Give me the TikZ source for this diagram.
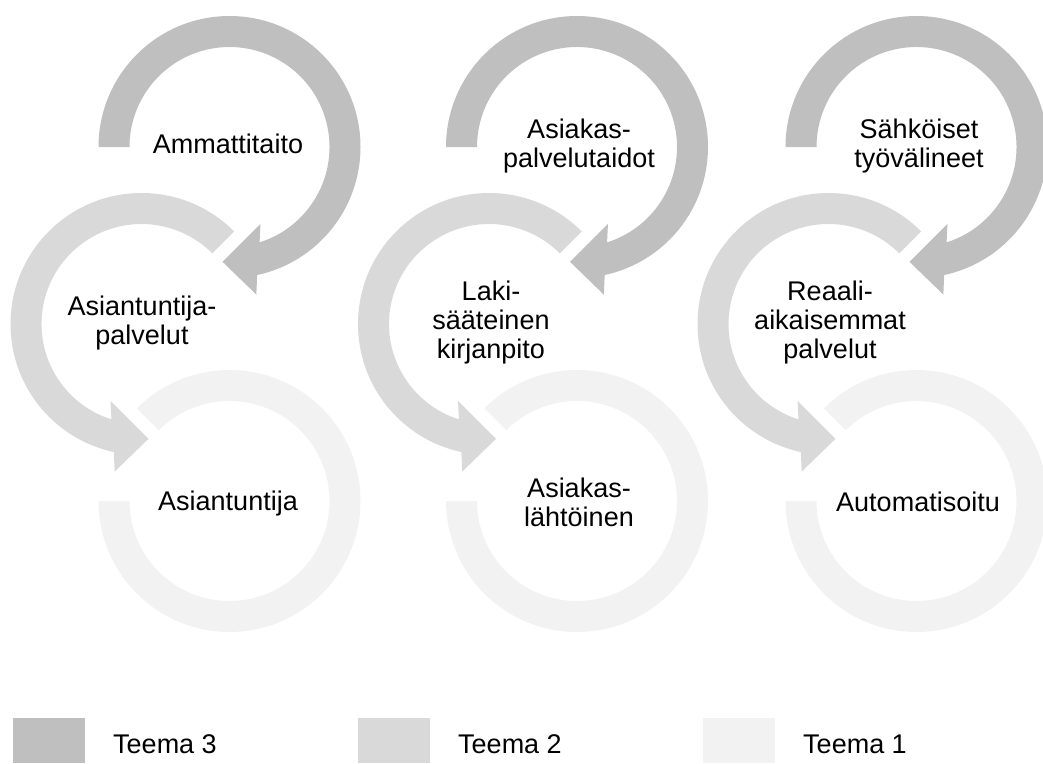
\documentclass[tikz,border=0pt]{standalone}
\usepackage{fontspec}
\setmainfont{Liberation Sans}
\definecolor{tthree}{HTML}{BFBFBF}
\definecolor{ttwo}{HTML}{D9D9D9}
\definecolor{tone}{HTML}{F2F2F2}
\newcommand{\ringarrow}[2]{%
  \fill[#2] (#1:131) arc[start angle=#1, end angle=-77.8, radius=131]
    -- (-79.7:150) -- (-93.5:115) -- (-68.1:83) -- (-72.5:100)
    arc[start angle=-72.5, end angle=#1, radius=100] -- cycle;}
\newcommand{\ringopen}[1]{%
  \fill[#1] (135:131) arc[start angle=135, end angle=-180, radius=131]
    -- (180:100) arc[start angle=-180, end angle=135, radius=100] -- cycle;}
\tikzset{
  lbl/.style={align=center, inner sep=0pt, text=black,
    font=\fontsize{27}{29}\selectfont},
  lgd/.style={anchor=base west, inner sep=0pt, text=black,
    font=\fontsize{27}{29}\selectfont},
}
\begin{document}
\begin{tikzpicture}[x=1pt,y=1pt]
\useasboundingbox (0,0) rectangle (1043,-763);
% column 1
\begin{scope}[shift={(229.5,-501)}]\ringopen{tone}\end{scope}
\begin{scope}[shift={(141.5,-324)},xscale=-1]\ringarrow{135}{ttwo}\end{scope}
\begin{scope}[shift={(229.5,-147)}]\ringarrow{180}{tthree}\end{scope}
% column 2
\begin{scope}[shift={(577,-501)}]\ringopen{tone}\end{scope}
\begin{scope}[shift={(489,-324)},xscale=-1]\ringarrow{135}{ttwo}\end{scope}
\begin{scope}[shift={(577,-147)}]\ringarrow{180}{tthree}\end{scope}
% column 3
\begin{scope}[shift={(916.5,-501)}]\ringopen{tone}\end{scope}
\begin{scope}[shift={(828.5,-324)},xscale=-1]\ringarrow{135}{ttwo}\end{scope}
\begin{scope}[shift={(916.5,-147)}]\ringarrow{180}{tthree}\end{scope}
% labels
\node[lbl] (a1) at (228,-144) {Ammattitaito};
\node[lbl] (a2) at (142,-323) {Asiantuntija-\\palvelut};
\node[lbl] (a3) at (228,-504) {Asiantuntija};
\node[lbl] (b1) at (579,-146) {Asiakas-\\palvelutaidot};
\node[lbl] (b2) at (491,-323) {Laki-\\sääteinen\\kirjanpito};
\node[lbl] (b3) at (579,-502) {Asiakas-\\lähtöinen};
\node[lbl] (c1) at (919,-146) {Sähköiset\\työvälineet};
\node[lbl] (c2) at (830,-323) {Reaali-\\aikaisemmat\\palvelut};
\node[lbl] (c3) at (918,-502) {Automatisoitu};
% legend
\fill[tthree] (13,-718) rectangle (85,-763);
\fill[ttwo] (358,-718) rectangle (430,-763);
\fill[tone] (703,-718) rectangle (775,-763);
\node[lgd] (l3) at (113,-753) {Teema 3};
\node[lgd] (l2) at (458,-753) {Teema 2};
\node[lgd] (l1) at (803,-753) {Teema 1};
\end{tikzpicture}
\end{document}
